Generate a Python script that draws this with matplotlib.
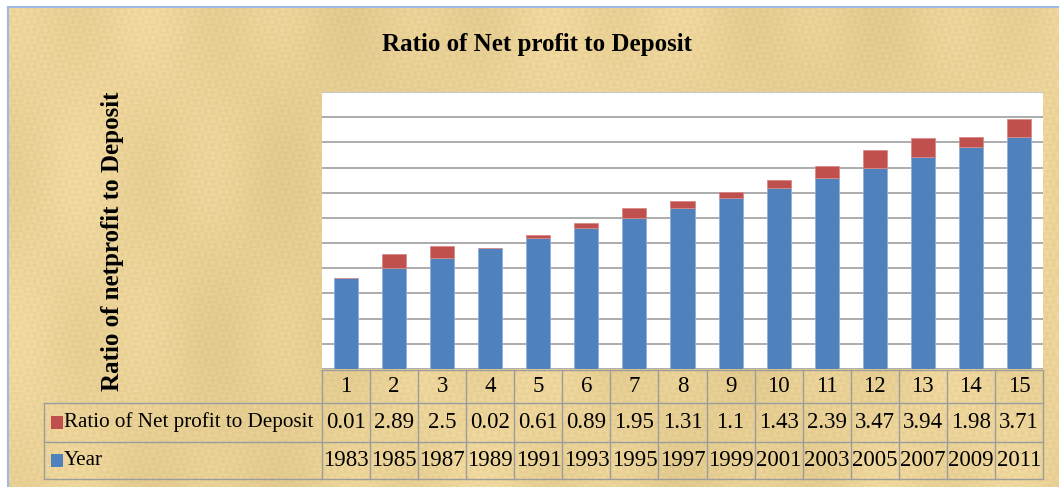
import numpy as np
import matplotlib.pyplot as plt
from matplotlib.patches import Rectangle
from matplotlib.lines import Line2D
from matplotlib.transforms import blended_transform_factory

# ---- data ----
periods = list(range(1, 16))
years = [1983, 1985, 1987, 1989, 1991, 1993, 1995, 1997, 1999, 2001,
         2003, 2005, 2007, 2009, 2011]
ratio = [0.01, 2.89, 2.5, 0.02, 0.61, 0.89, 1.95, 1.31, 1.1, 1.43,
         2.39, 3.47, 3.94, 1.98, 3.71]
series_names = ["Ratio of Net profit to Deposit", "Year"]
title = "Ratio of Net profit to Deposit"
ylabel = "Ratio of netprofit to Deposit"

RED = "#c0504d"
BLUE = "#4f81bd"
GRID = "#a6a6a6"
TABLE_LINE = "#9c9c9c"
SERIF = ["Liberation Serif", "DejaVu Serif"]

W, H = 1059, 487
fig = plt.figure(figsize=(W / 100, H / 100), dpi=100)
fig.patch.set_facecolor("white")


def fx(px):
    return px / W


def fy(py):
    return 1 - py / H


# ---- parchment backdrop ----
bg = fig.add_axes([fx(8), 0, 1 - fx(8), fy(7)])
bg.set_axis_off()
yy, xx = np.mgrid[0:480, 0:1051].astype(float)
tex = (0.35 * np.sin(xx * 0.9) * np.sin(yy * 0.35)
       + 0.30 * np.sin(yy * 1.2) * np.sin(xx * 0.21)
       + 0.45 * np.sin(xx * 0.047 + 1.3) * np.cos(yy * 0.019)
       + 0.35 * np.sin(xx * 0.013 + yy * 0.004))
tex = tex / np.abs(tex).max()
base = np.array([233, 209, 150]) / 255.0
img = np.clip(base[None, None, :] + tex[..., None] * np.array([13, 13, 15]) / 255.0, 0, 1)
bg.imshow(img, extent=[0, 1, 0, 1], aspect="auto", interpolation="bilinear")
bg.set_xlim(0, 1)
bg.set_ylim(0, 1)
fig.add_artist(Line2D([fx(8), fx(8)], [0, fy(7)], color="#9dbbe6", lw=1.5))
fig.add_artist(Line2D([fx(8), 1], [fy(7), fy(7)], color="#9dbbe6", lw=1.5))

# ---- plot area ----
left_px, right_px, top_px, bot_px = 322, 1043, 92, 369
ax = fig.add_axes([fx(left_px), fy(bot_px), fx(right_px - left_px),
                   (bot_px - top_px) / H])
ax.set_facecolor("white")
x = np.arange(len(periods))
ax.bar(x, years, width=0.5, color=BLUE, edgecolor="#8fb0dc", lw=0.6, zorder=3)
ax.bar(x, ratio, bottom=years, width=0.5, color=RED, edgecolor="#d88a88",
       lw=0.6, zorder=3)
ax.set_xlim(-0.5, len(periods) - 0.5)
ax.set_ylim(1965, 2020)
ax.set_yticks(np.arange(1965, 2021, 5))
ax.set_xticks([])
ax.yaxis.grid(True, color=GRID, lw=1.3)
ax.set_axisbelow(True)
ax.tick_params(left=False, labelleft=False)
for s in ax.spines.values():
    s.set_visible(False)
ax.spines["top"].set_visible(True)
ax.spines["top"].set_color("#c8c8c8")
ax.spines["top"].set_linewidth(0.8)

# ---- data table beneath the plot ----
tr = blended_transform_factory(ax.transData, fig.transFigure)
row_edges = [370, 403, 442, 479]
label_left = 44
col_edges = np.arange(len(periods) + 1) - 0.5

# horizontal rules
fig.add_artist(Line2D([fx(left_px), fx(right_px)], [fy(row_edges[0])] * 2,
                      color=TABLE_LINE, lw=1))
for r in row_edges[1:]:
    fig.add_artist(Line2D([fx(label_left), fx(right_px)], [fy(r)] * 2,
                          color=TABLE_LINE, lw=1))
# vertical rules
for c in col_edges:
    ax.add_line(Line2D([c, c], [fy(row_edges[0]), fy(row_edges[-1])],
                       transform=tr, color=TABLE_LINE, lw=1, clip_on=False))
fig.add_artist(Line2D([fx(label_left)] * 2, [fy(row_edges[1]), fy(row_edges[-1])],
                      color=TABLE_LINE, lw=1))


def row_mid(i):
    return fy((row_edges[i] + row_edges[i + 1]) / 2)


NUM_FS = 16.5
for xi, p, r, yv in zip(x, periods, ratio, years):
    ax.text(xi, row_mid(0), str(p), transform=tr, ha="center", va="center",
            fontsize=NUM_FS, family=SERIF, clip_on=False)
    ax.text(xi, row_mid(1), f"{r:g}", transform=tr, ha="center", va="center",
            fontsize=NUM_FS, family=SERIF, clip_on=False)
    ax.text(xi, row_mid(2), str(yv), transform=tr, ha="center", va="center",
            fontsize=NUM_FS, family=SERIF, clip_on=False)

for i, (name, col) in enumerate(zip(series_names, [RED, BLUE])):
    ym = (row_edges[i + 1] + row_edges[i + 2]) / 2
    fig.add_artist(Rectangle((fx(51), fy(ym + 6.5)), fx(12), 13 / H,
                             facecolor=col, edgecolor="none"))
    fig.text(fx(64), fy(ym), name, ha="left", va="center", fontsize=15.2,
             family=SERIF)

# ---- titles ----
fig.text(fx(537), fy(45), title, ha="center", va="center", fontsize=18,
         fontweight="bold", family=SERIF)
fig.text(fx(113), fy(241), ylabel, ha="center", va="center", rotation=90,
         fontsize=18, fontweight="bold", family=SERIF)

fig.savefig("out.png", dpi=100)
